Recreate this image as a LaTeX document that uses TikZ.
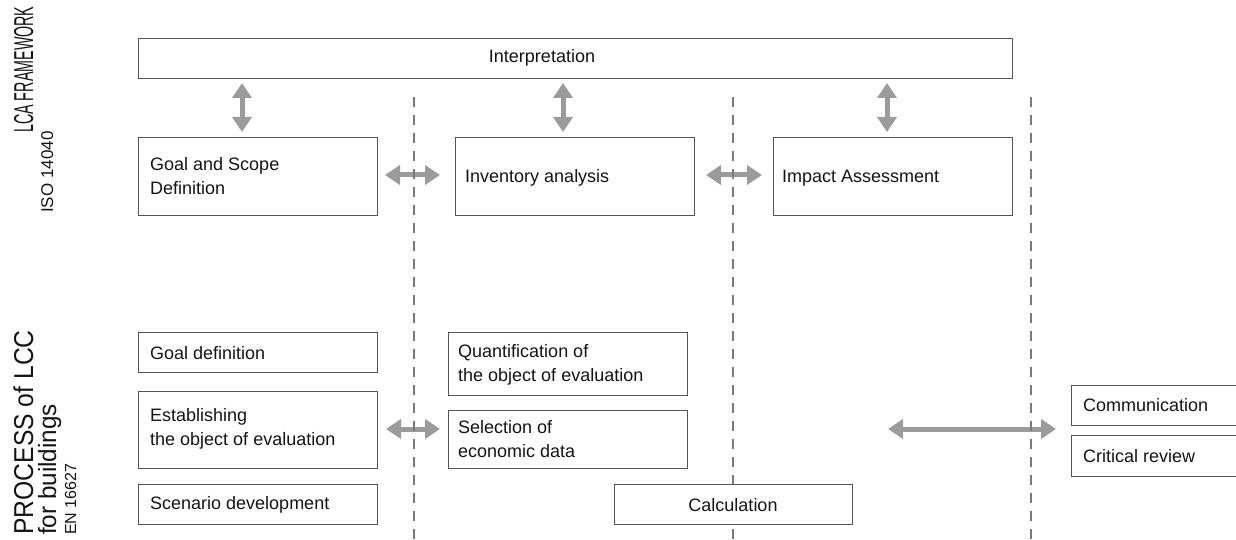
\documentclass[tikz,border=0pt]{standalone}
\usepackage{fontspec}
\setmainfont{Liberation Sans}
\usetikzlibrary{arrows.meta}
\definecolor{boxline}{HTML}{555555}
\definecolor{txtcol}{HTML}{141414}
\definecolor{arrgray}{HTML}{9B9B9B}
\definecolor{dashgray}{HTML}{7A7A7A}
\tikzset{
  box/.style={draw=boxline, fill=white, line width=1.2pt, inner sep=0pt, anchor=north west},
  txt/.style={inner sep=0pt, text=txtcol, align=left, anchor=west, font=\fontsize{18}{24}\selectfont},
  dblarrow/.style={draw=arrgray, line width=5pt, {Triangle[width=19pt,length=15pt]}-{Triangle[width=19pt,length=15pt]}},
  divider/.style={draw=dashgray, line width=2.5pt, dash pattern=on 10pt off 8pt},
  sidelbl/.style={inner sep=0pt, text=txtcol, rotate=90, anchor=base west},
}
\begin{document}
\begin{tikzpicture}[x=1pt,y=-1pt]
\useasboundingbox (0,0) rectangle (1236,540);
\clip (0,0) rectangle (1236,540);

% side labels
\node[sidelbl, font=\fontsize{26}{26}\selectfont] (lca) at (33,133) {\scalebox{0.55}[1.05]{LCA FRAMEWORK}};
\node[sidelbl, font=\fontsize{17}{17}\selectfont] (iso) at (53,213) {ISO 14040};
\node[sidelbl, font=\fontsize{26}{26}\selectfont] (proc) at (33,535) {\scalebox{0.95}[1.05]{PROCESS of LCC}};
\node[sidelbl, font=\fontsize{25}{25}\selectfont] (forb) at (56,535) {\scalebox{0.97}[1]{for buildings}};
\node[sidelbl, font=\fontsize{16}{16}\selectfont] (en) at (76,535) {EN 16627};

% divider end points
\coordinate (d1t) at (414,97); \coordinate (d1b) at (414,545);
\coordinate (d2t) at (733,97); \coordinate (d2b) at (733,545);
\coordinate (d3t) at (1031,97); \coordinate (d3b) at (1031,545);

% arrow end points
\coordinate (v1a) at (242,83); \coordinate (v1b) at (242,132);
\coordinate (v2a) at (563,83); \coordinate (v2b) at (563,132);
\coordinate (v3a) at (887,83); \coordinate (v3b) at (887,132);
\coordinate (h1a) at (385,175); \coordinate (h1b) at (440,175);
\coordinate (h2a) at (706,175); \coordinate (h2b) at (762,175);
\coordinate (h3a) at (386,429); \coordinate (h3b) at (440,429);
\coordinate (h4a) at (888,429); \coordinate (h4b) at (1056,429);

\draw[dblarrow] (v1a) -- (v1b);
\draw[dblarrow] (v2a) -- (v2b);
\draw[dblarrow] (v3a) -- (v3b);
\draw[dblarrow] (h1a) -- (h1b);
\draw[dblarrow] (h2a) -- (h2b);
\draw[dblarrow] (h3a) -- (h3b);
\draw[dblarrow] (h4a) -- (h4b);

\draw[divider] (d1t) -- (d1b);
\draw[divider] (d2t) -- (d2b);
\draw[divider] (d3t) -- (d3b);

% boxes
\node[box, minimum width=874pt, minimum height=40pt] (interp) at (138,38) {};
\node[box, minimum width=239pt, minimum height=78pt] (gs) at (138,137) {};
\node[box, minimum width=239pt, minimum height=78pt] (inv) at (455,137) {};
\node[box, minimum width=239pt, minimum height=78pt] (ia) at (773,137) {};
\node[box, minimum width=239pt, minimum height=40pt] (gd) at (138,332) {};
\node[box, minimum width=239pt, minimum height=77pt] (est) at (138,391) {};
\node[box, minimum width=239pt, minimum height=40pt] (scen) at (138,484) {};
\node[box, minimum width=239pt, minimum height=63pt] (quant) at (448,332) {};
\node[box, minimum width=239pt, minimum height=58pt] (sel) at (448,410) {};
\node[box, minimum width=238pt, minimum height=40pt] (calc) at (614,484) {};
\node[box, minimum width=200pt, minimum height=40pt] (comm) at (1071,385) {};
\node[box, minimum width=200pt, minimum height=41pt] (crit) at (1071,435) {};

% texts
\node[txt, anchor=center] (interp-t) at (542,58) {Interpretation};
\node[txt] (gs-t) at (150,176) {Goal and Scope\\Definition};
\node[txt] (inv-t) at (465,178) {Inventory analysis};
\node[txt] (ia-t) at (782,178) {Impact Assessment};
\node[txt] (gd-t) at (150,353) {Goal definition};
\node[txt] (est-t) at (150,429) {Establishing\\the object of evaluation};
\node[txt] (scen-t) at (150,505) {Scenario development};
\node[txt] (quant-t) at (458,365) {Quantification of\\the object of evaluation};
\node[txt] (sel-t) at (458,439) {Selection of\\economic data};
\node[txt, anchor=center] (calc-t) at (733,505) {Calculation};
\node[txt] (comm-t) at (1083,405) {Communication};
\node[txt] (crit-t) at (1083,456) {Critical review};
\end{tikzpicture}
\end{document}
